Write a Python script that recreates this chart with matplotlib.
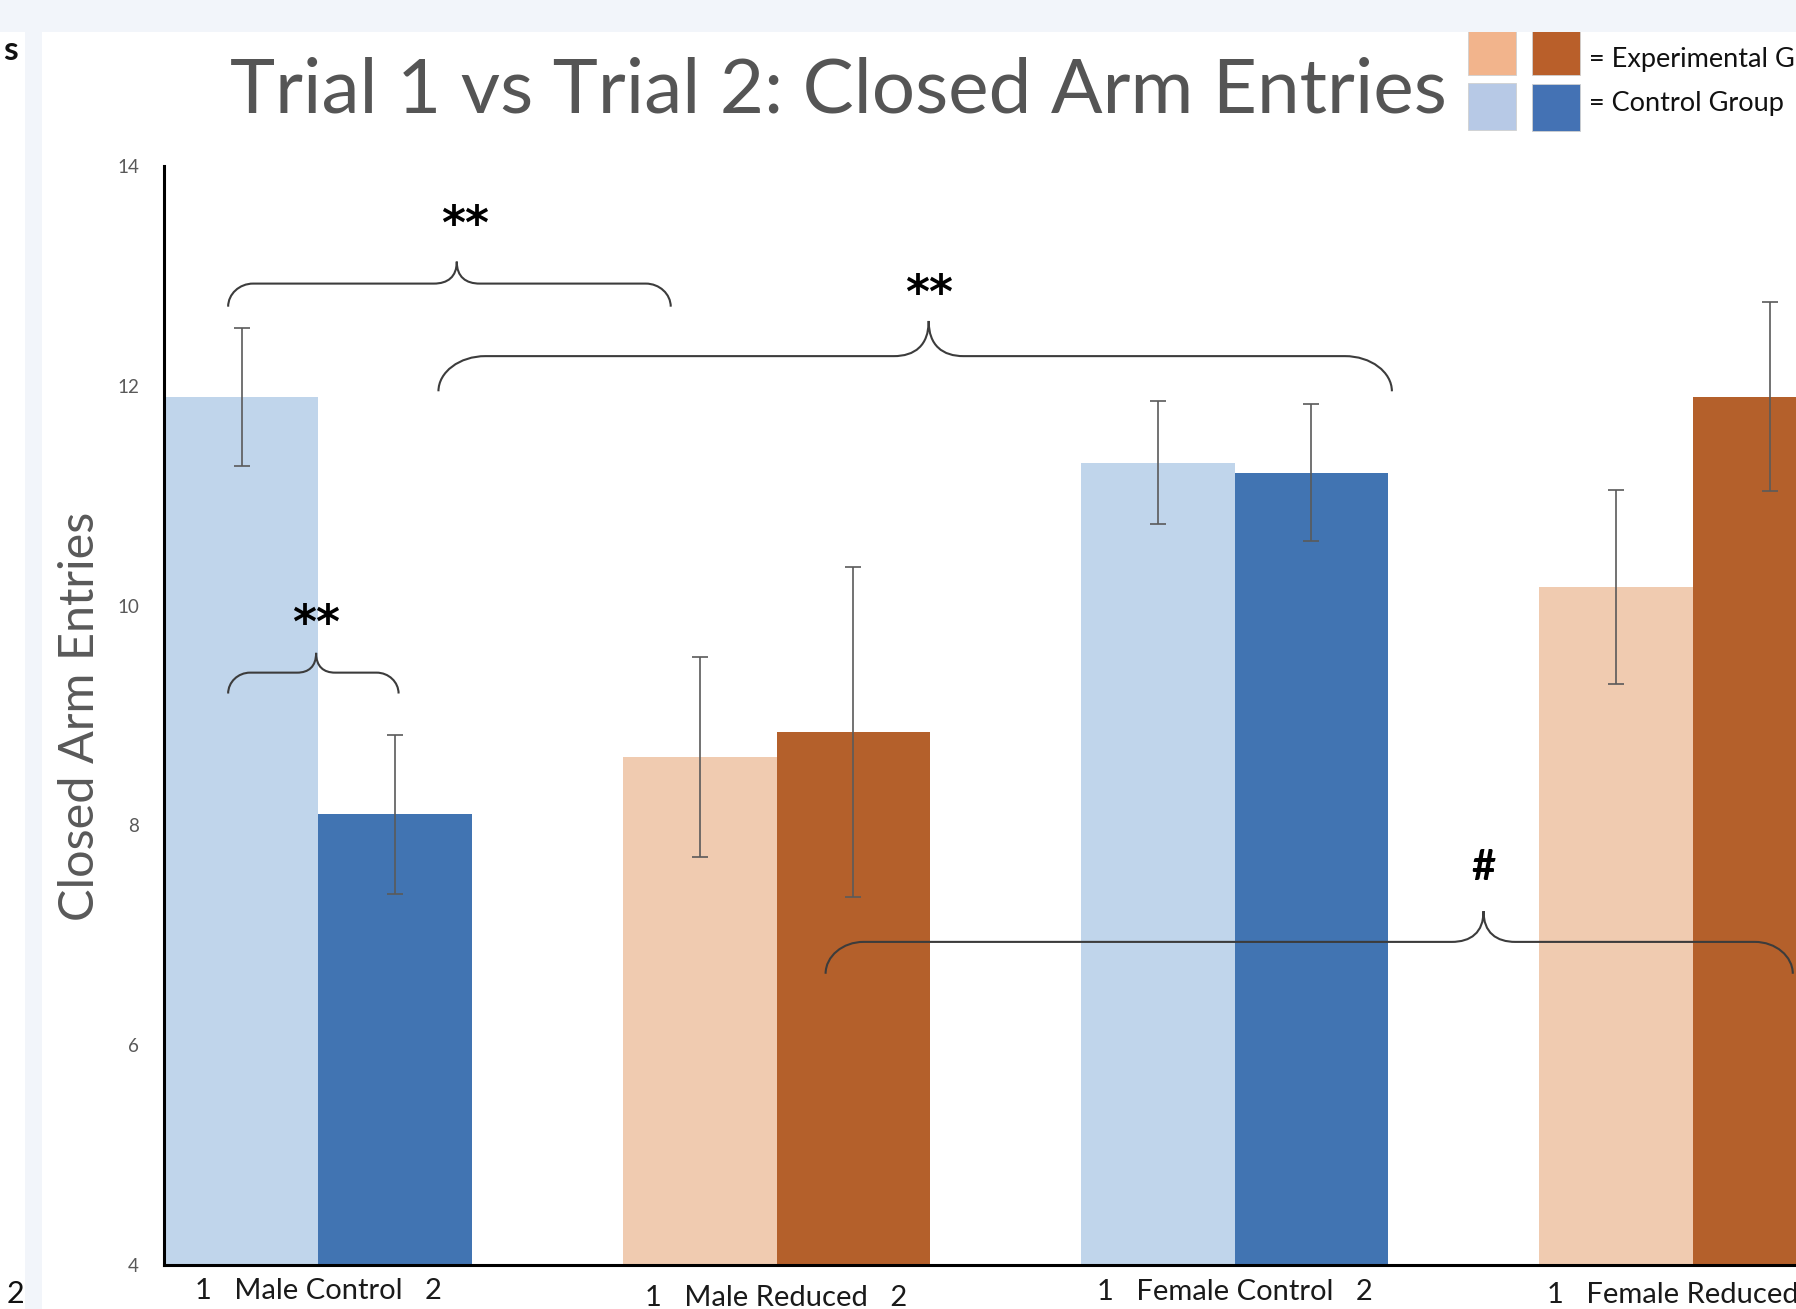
import matplotlib
matplotlib.use("Agg")
import matplotlib.pyplot as plt
from matplotlib.patches import Rectangle, PathPatch
from matplotlib.path import Path
from matplotlib.transforms import IdentityTransform

plt.rcParams['font.family'] = ['Lato', 'DejaVu Sans']

# ---- data ----
groups = ["Male Control", "Male Reduced", "Female Control", "Female Reduced"]
trial1 = [11.90, 8.62, 11.30, 10.17]
trial2 = [8.10, 8.85, 11.21, 11.90]
trial1_err = [0.63, 0.91, 0.56, 0.88]
trial2_err = [0.72, 1.50, 0.62, 0.86]
yticks = [4, 6, 8, 10, 12, 14]

# significance braces: left end, right end, peak x, tip y, line y, peak y, label
brace_x0 = [-0.197, 0.262, -0.197, 1.107]
brace_x1 = [0.769, 2.343, 0.175, 3.218]
brace_xp = [0.302, 1.332, -0.005, 2.543]
brace_ytip = [12.72, 11.95, 9.20, 6.65]
brace_yline = [12.93, 12.27, 9.39, 6.94]
brace_ypeak = [13.13, 12.59, 9.57, 7.22]
brace_labels = ["**", "**", "**", "#"]
brace_label_x = [0.320, 1.332, -0.005, 2.543]
brace_label_y = [13.45, 12.82, 9.82, 7.61]

light_blue, dark_blue = "#c0d5eb", "#4174b2"
light_orange, dark_orange = "#f0cbb0", "#b4602b"
t1_colors = [light_blue, light_orange, light_blue, light_orange]
t2_colors = [dark_blue, dark_orange, dark_blue, dark_orange]

W, H = 1796, 1309
fig = plt.figure(figsize=(W / 100, H / 100), dpi=100)
fig.patch.set_facecolor("#f2f5fa")


def fx(px):
    return px / W


def fy(py):
    return 1 - py / H


# slide panels
fig.add_artist(Rectangle((fx(42), 0), 1 - fx(42), fy(32), transform=fig.transFigure,
                         facecolor="white", edgecolor="none", zorder=-10))
fig.add_artist(Rectangle((0, 0), fx(25), fy(32), transform=fig.transFigure,
                         facecolor="white", edgecolor="none", zorder=-10))
fig.text(fx(18), fy(50), "s", ha="right", va="center", fontsize=24, color="#111111",
         fontweight="bold")
fig.text(fx(24), fy(1294), "2", ha="right", va="center", fontsize=22, color="#111111")

ax = fig.add_axes([fx(164), fy(1265), 1 - fx(164), fy(166) - fy(1265)])
ax.set_facecolor("none")

w = 0.335
centers = list(range(len(groups)))
x1 = [c - w / 2 for c in centers]
x2 = [c + w / 2 for c in centers]
ax.bar(x1, trial1, width=w, color=t1_colors, zorder=2)
ax.bar(x2, trial2, width=w, color=t2_colors, zorder=2)
ax.errorbar(x1, trial1, yerr=trial1_err, fmt="none", ecolor="#5a5a5a",
            elinewidth=1.2, capsize=5.5, capthick=1.2, zorder=3)
ax.errorbar(x2, trial2, yerr=trial2_err, fmt="none", ecolor="#5a5a5a",
            elinewidth=1.2, capsize=5.5, capthick=1.2, zorder=3)

ax.set_xlim(-0.337, 3.225)
ax.set_ylim(4, 14)
ax.set_yticks(yticks)
ax.set_yticklabels([str(v) for v in yticks])
ax.tick_params(axis="y", length=0, pad=18, labelsize=13.5, labelcolor="#595959")
ax.set_xticks([])
for s in ["top", "right"]:
    ax.spines[s].set_visible(False)
for s in ["left", "bottom"]:
    ax.spines[s].set_linewidth(2.2)
    ax.spines[s].set_color("black")
    ax.spines[s].set_zorder(5)

# category labels with trial numbers
label_y = [1291, 1298, 1292, 1295]
for c, g, ly in zip(centers, groups, label_y):
    xd = ax.transData.transform((c, 4))[0]
    fig.text(xd / W, fy(ly), f"1   {g}   2", ha="center", va="center",
             fontsize=21, color="#1a1a1a")

# braces drawn in display space so the curls keep their shape
corner_px = [25, 47, 22, 38]
cusp_px = [23, 35, 19, 32]
fig.canvas.draw()
T = ax.transData
for i in range(len(brace_labels)):
    X0, Yt = T.transform((brace_x0[i], brace_ytip[i]))
    X1, _ = T.transform((brace_x1[i], brace_ytip[i]))
    Xp, Yl = T.transform((brace_xp[i], brace_yline[i]))
    _, Yp = T.transform((brace_xp[i], brace_ypeak[i]))
    r, c = corner_px[i], cusp_px[i]
    verts = [
        (X0, Yt),
        (X0, Yt + 0.55 * (Yl - Yt)), (X0 + 0.45 * r, Yl), (X0 + r, Yl),
        (Xp - c, Yl),
        (Xp - 0.4 * c, Yl), (Xp, Yl + 0.3 * (Yp - Yl)), (Xp, Yp),
        (Xp, Yl + 0.3 * (Yp - Yl)), (Xp + 0.4 * c, Yl), (Xp + c, Yl),
        (X1 - r, Yl),
        (X1 - 0.45 * r, Yl), (X1, Yt + 0.55 * (Yl - Yt)), (X1, Yt),
    ]
    codes = [Path.MOVETO,
             Path.CURVE4, Path.CURVE4, Path.CURVE4,
             Path.LINETO,
             Path.CURVE4, Path.CURVE4, Path.CURVE4,
             Path.CURVE4, Path.CURVE4, Path.CURVE4,
             Path.LINETO,
             Path.CURVE4, Path.CURVE4, Path.CURVE4]
    patch = PathPatch(Path(verts, codes), transform=IdentityTransform(),
                      facecolor="none", edgecolor="#3c3c3c", linewidth=1.5, zorder=6)
    fig.add_artist(patch)
    is_star = brace_labels[i].startswith("*")
    ax.text(brace_label_x[i], brace_label_y[i], brace_labels[i],
            ha="center", va="center", fontsize=33 if is_star else 30,
            fontweight="bold", color="black", zorder=7,
            family=["DejaVu Sans"] if is_star else ["Lato"])

# title and axis label
fig.text(fx(838), fy(91), "Trial 1 vs Trial 2: Closed Arm Entries", ha="center",
         va="center", fontsize=55, color="#555555")
fig.text(fx(80), fy(716), "Closed Arm Entries", ha="center", va="center",
         rotation=90, fontsize=35, color="#595959")

# colour key
key = [((1468, 28), "#f2b48c"), ((1532, 28), "#b95f2a"),
       ((1468, 83), "#b7c9e6"), ((1532, 84), "#4472b4")]
for (px, py), col in key:
    fig.add_artist(Rectangle((fx(px), fy(py + 47)), fx(48), 47 / H,
                             transform=fig.transFigure, facecolor=col,
                             edgecolor="#d0d0d0", linewidth=0.6, zorder=4))
fig.text(fx(1589), fy(60), "= Experimental Group", ha="left", va="center",
         fontsize=19.5, color="#111111")
fig.text(fx(1589), fy(104), "= Control Group", ha="left", va="center",
         fontsize=19.5, color="#111111")

# slide header band
fig.add_artist(Rectangle((0, fy(32)), 1, 1 - fy(32), transform=fig.transFigure,
                         facecolor="#f2f5fa", edgecolor="none", zorder=20))

fig.savefig("out.png", dpi=100, facecolor=fig.get_facecolor())
